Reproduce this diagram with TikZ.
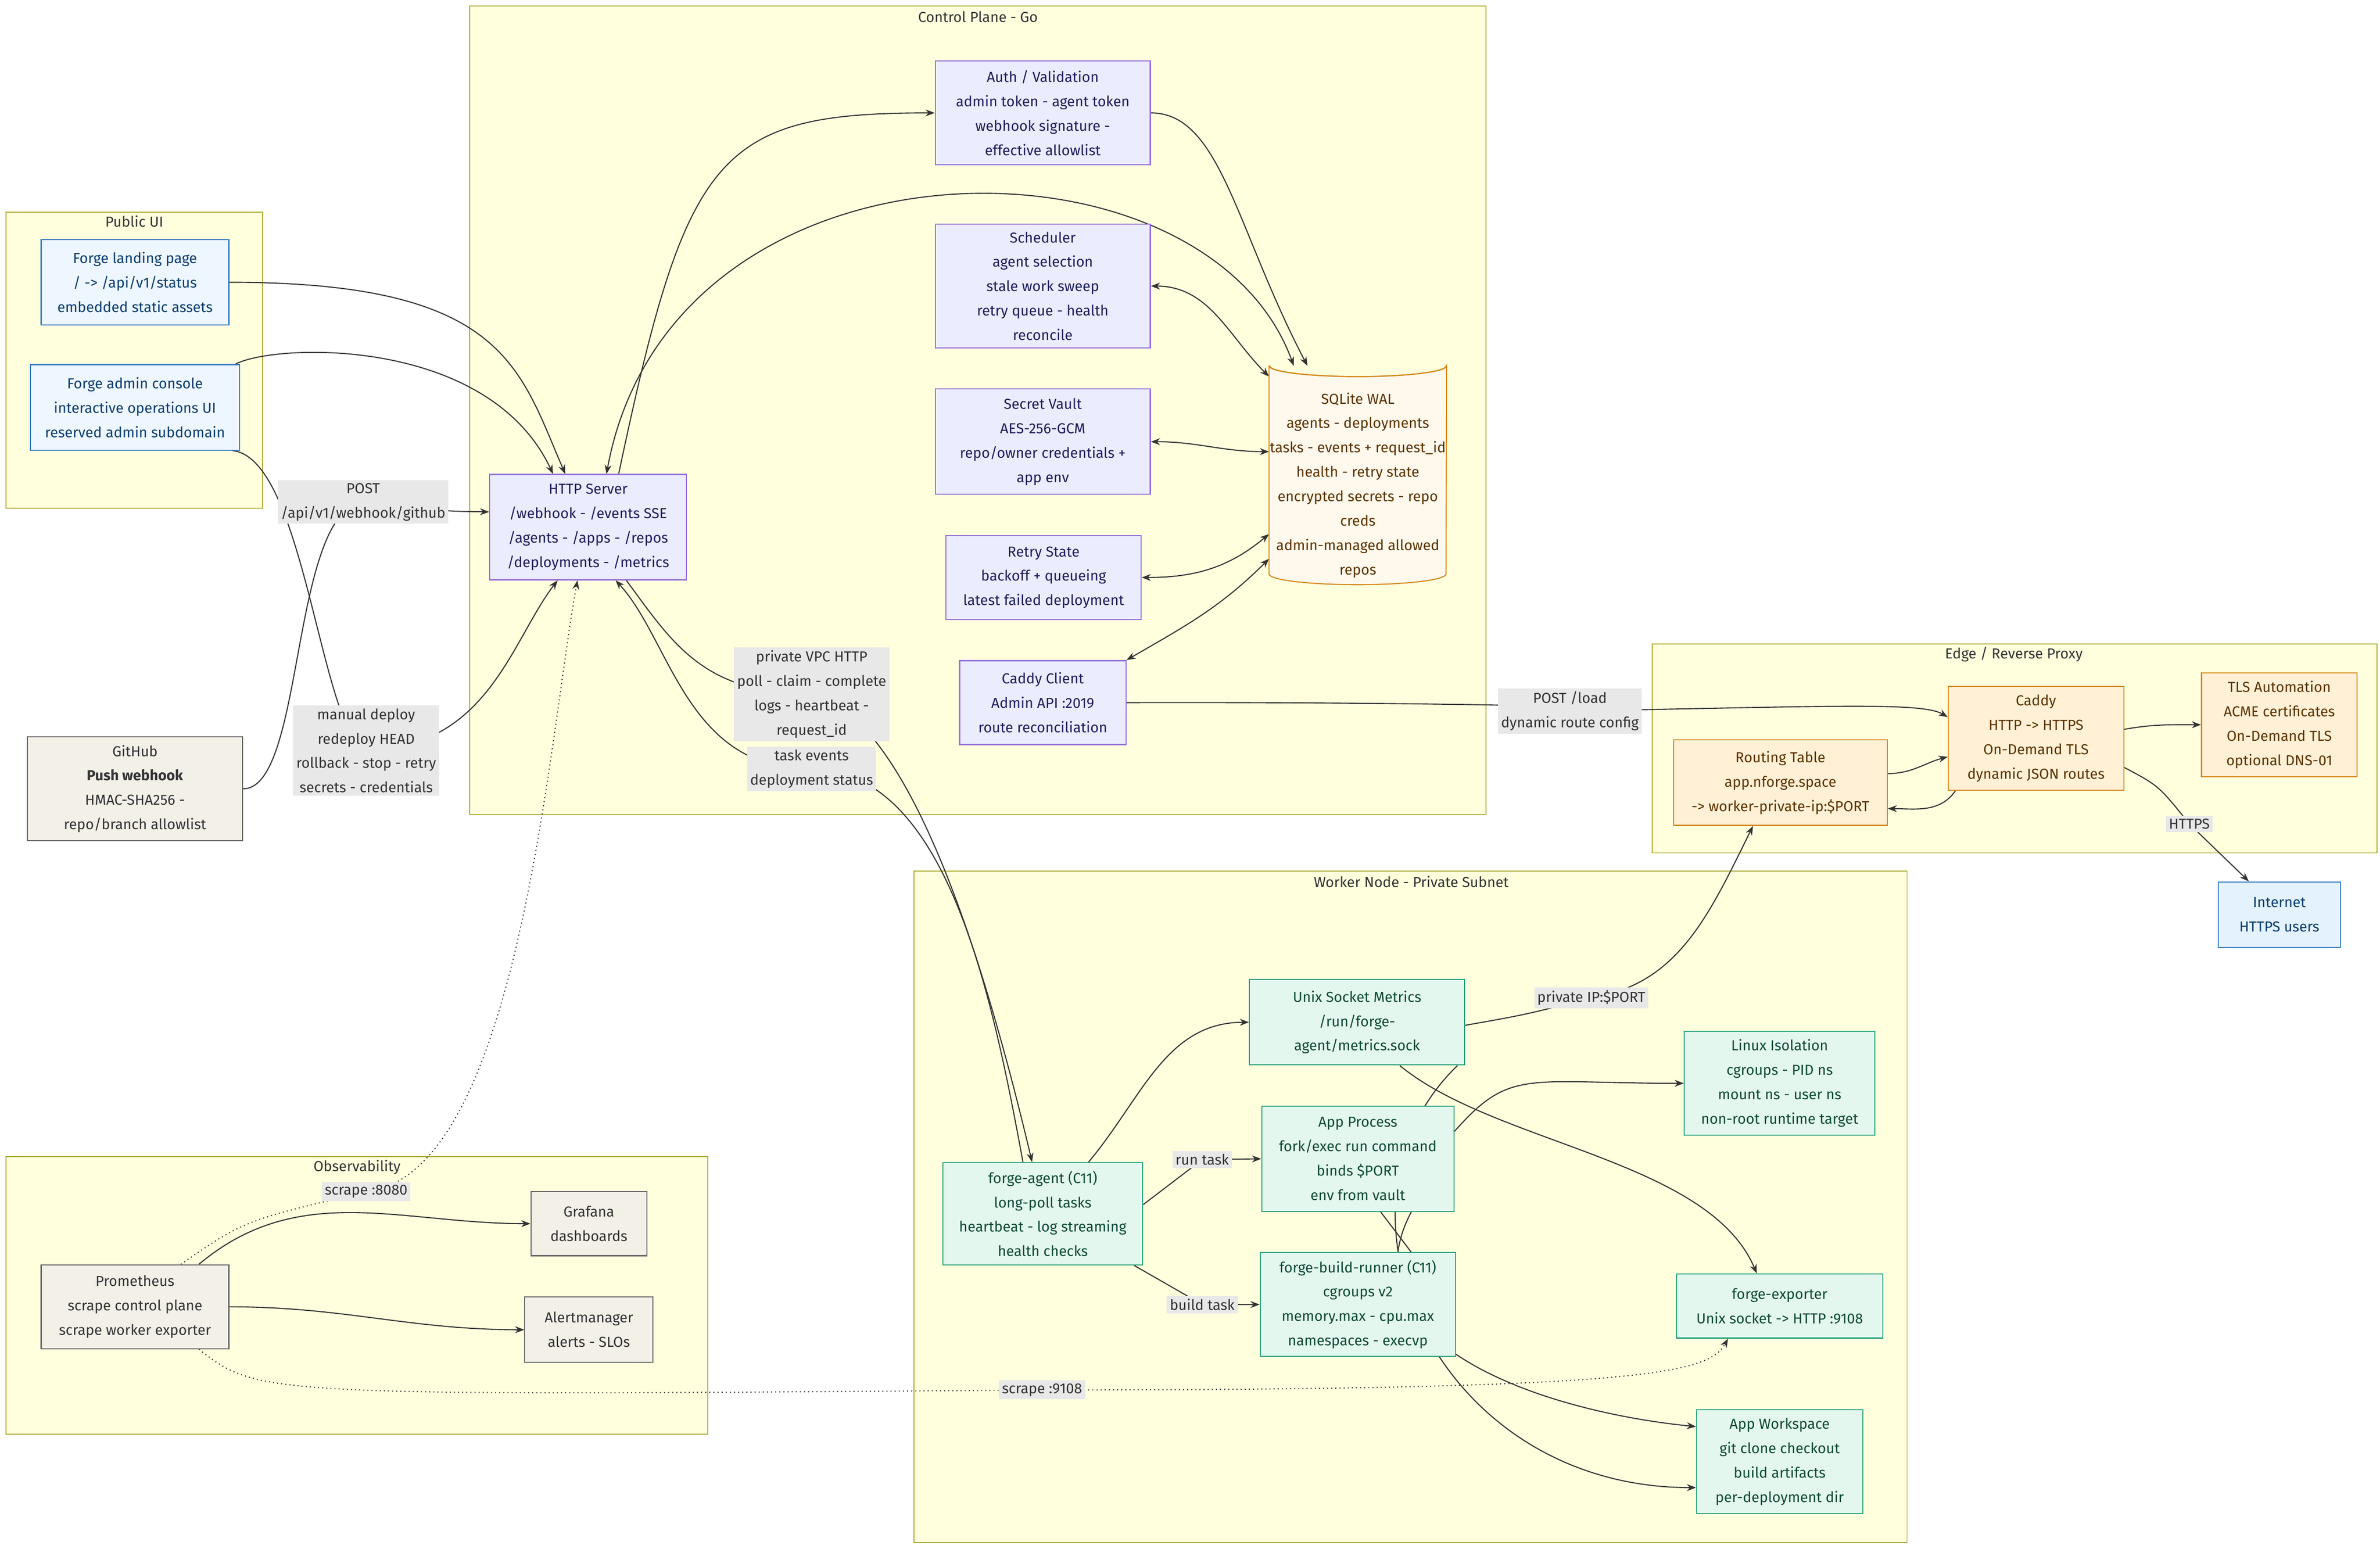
\documentclass[tikz,border=0pt]{standalone}
\usepackage{fontspec}
\setmainfont{Fira Sans}
\usetikzlibrary{positioning,calc,arrows.meta}
\definecolor{clfill}{HTML}{FFFFDE}
\definecolor{cldraw}{HTML}{AAAA33}
\definecolor{cpfill}{HTML}{ECECFF}
\definecolor{cpdraw}{HTML}{9370DB}
\definecolor{cptext}{HTML}{1F1F5C}
\definecolor{pubfill}{HTML}{EEF6FF}
\definecolor{pubdraw}{HTML}{3B7DC4}
\definecolor{pubtext}{HTML}{0B3D6E}
\definecolor{extfill}{HTML}{F3F0E8}
\definecolor{extdraw}{HTML}{666666}
\definecolor{orfill}{HTML}{FFF0D6}
\definecolor{ordraw}{HTML}{D4891A}
\definecolor{ortext}{HTML}{5A3400}
\definecolor{wkfill}{HTML}{E3F7EF}
\definecolor{wkdraw}{HTML}{2AA37A}
\definecolor{wktext}{HTML}{0F4A35}
\definecolor{inetfill}{HTML}{E3F2FD}
\definecolor{dbfill}{HTML}{FFF8EC}
\definecolor{lblfill}{HTML}{E8E8E8}
\definecolor{edgecol}{HTML}{333333}
\pgfdeclarelayer{bg}
\pgfdeclarelayer{edges}
\pgfsetlayers{bg,edges,main}
\tikzset{
  cluster/.style={draw=cldraw, fill=clfill, line width=0.6pt},
  cltitle/.style={text=edgecol},
  box/.style={draw, line width=0.7pt, align=center, inner sep=0pt},
  cp/.style={box, fill=cpfill, draw=cpdraw, text=cptext},
  pub/.style={box, fill=pubfill, draw=pubdraw, text=pubtext},
  ext/.style={box, fill=extfill, draw=extdraw, text=edgecol},
  orng/.style={box, fill=orfill, draw=ordraw, text=ortext},
  wk/.style={box, fill=wkfill, draw=wkdraw, text=wktext},
  lbl/.style={fill=lblfill, align=center, inner sep=2pt, text=edgecol},
  link/.style={draw=edgecol, line width=0.7pt, -{Stealth[length=6pt,width=4.5pt]}},
  both/.style={link, {Stealth[length=6pt,width=4.5pt]}-{Stealth[length=6pt,width=4.5pt]}},
  plain/.style={draw=edgecol, line width=0.7pt},
  scrape/.style={link, dotted}
}
\begin{document}
\begin{tikzpicture}[x=1pt, y=-1pt, font=\fontsize{9.5}{16}\selectfont]
\useasboundingbox (0,0) rectangle (1560,1015);

% clusters
\begin{pgfonlayer}{bg}
  \fill[white] (0,0) rectangle (1560,1015);
  \draw[cluster] (308,4) rectangle (974,534);
  \draw[cluster] (4,139) rectangle (172,333);
  \draw[cluster] (1083,422) rectangle (1558,559);
  \draw[cluster] (599,571) rectangle (1250,1011);
  \draw[cluster] (4,758) rectangle (464,940);
\end{pgfonlayer}
\node[cltitle] (tcp) at (641,11) {Control Plane - Go};
\node[cltitle] (tpub) at (88,145) {Public UI};
\node[cltitle] (tedge) at (1320,429) {Edge / Reverse Proxy};
\node[cltitle] (twk) at (925,578) {Worker Node - Private Subnet};
\node[cltitle] (tobs) at (234,765) {Observability};

% public / external
\node[pub, minimum width=123, minimum height=56] (land) at (88.5,185)
  {Forge landing page\\/ -> /api/v1/status\\embedded static assets};
\node[pub, minimum width=137, minimum height=56] (adm) at (88.5,267)
  {Forge admin console\\interactive operations UI\\reserved admin subdomain};
\node[ext, minimum width=141, minimum height=68] (gh) at (88.5,517)
  {GitHub\\\textbf{Push webhook}\\HMAC-SHA256 -\\repo/branch allowlist};

% control plane
\node[cp, minimum width=129, minimum height=69] (http) at (385.5,345.5)
  {HTTP Server\\/webhook - /events SSE\\/agents - /apps - /repos\\/deployments - /metrics};
\node[cp, minimum width=141, minimum height=68] (auth) at (683.5,74)
  {Auth / Validation\\admin token - agent token\\webhook signature -\\effective allowlist};
\node[cp, minimum width=141, minimum height=81] (sched) at (683.5,187.5)
  {Scheduler\\agent selection\\stale work sweep\\retry queue - health\\reconcile};
\node[cp, minimum width=141, minimum height=69] (vault) at (683.5,289.5)
  {Secret Vault\\AES-256-GCM\\repo/owner credentials +\\app env};
\node[cp, minimum width=128, minimum height=55] (retry) at (684,378.5)
  {Retry State\\backoff + queueing\\latest failed deployment};
\node[cp, minimum width=109, minimum height=55] (cclient) at (683.5,460.5)
  {Caddy Client\\Admin API :2019\\route reconciliation};
\node[minimum width=116, minimum height=136, inner sep=0pt] (db) at (890,308) {};
\fill[dbfill, draw=ordraw, line width=0.7pt]
  (db.north west) -- (db.south west) arc[start angle=180, end angle=360, x radius=58, y radius=-7]
  -- (db.north east) arc[start angle=0, end angle=-180, x radius=58, y radius=-7] -- cycle;
\draw[ordraw, line width=0.7pt] (db.north west) arc[start angle=180, end angle=360, x radius=58, y radius=-7];
\node[align=center, text=ortext] (dbtext) at (890,318)
  {SQLite WAL\\agents - deployments\\tasks - events + request\_id\\health - retry state\\encrypted secrets - repo\\creds\\admin-managed allowed\\repos};

% edge proxy
\node[orng, minimum width=140, minimum height=56] (route) at (1167,513)
  {Routing Table\\app.nforge.space\\-> worker-private-ip:\$PORT};
\node[orng, minimum width=115, minimum height=68] (caddy) at (1334.5,484)
  {Caddy\\HTTP -> HTTPS\\On-Demand TLS\\dynamic JSON routes};
\node[orng, minimum width=102, minimum height=68] (tls) at (1494,475)
  {TLS Automation\\ACME certificates\\On-Demand TLS\\optional DNS-01};
\node[box, fill=inetfill, draw=pubdraw, text=pubtext, minimum width=80, minimum height=43] (inet) at (1494,599.5)
  {Internet\\HTTPS users};

% worker
\node[wk, minimum width=141, minimum height=56] (metrics) at (889.5,670)
  {Unix Socket Metrics\\/run/forge-\\agent/metrics.sock};
\node[wk, minimum width=125, minimum height=68] (linux) at (1166.5,710)
  {Linux Isolation\\cgroups - PID ns\\mount ns - user ns\\non-root runtime target};
\node[wk, minimum width=126, minimum height=69] (app) at (890,759.5)
  {App Process\\fork/exec run command\\binds \$PORT\\env from vault};
\node[wk, minimum width=131, minimum height=67] (agent) at (683.5,795.5)
  {forge-agent (C11)\\long-poll tasks\\heartbeat - log streaming\\health checks};
\node[wk, minimum width=128, minimum height=68] (runner) at (890,855)
  {forge-build-runner (C11)\\cgroups v2\\memory.max - cpu.max\\namespaces - execvp};
\node[wk, minimum width=135, minimum height=42] (exporter) at (1166.5,856)
  {forge-exporter\\Unix socket -> HTTP :9108};
\node[wk, minimum width=109, minimum height=68] (ws) at (1166.5,958)
  {App Workspace\\git clone checkout\\build artifacts\\per-deployment dir};

% observability
\node[ext, minimum width=123, minimum height=55] (prom) at (88.5,856.5)
  {Prometheus\\scrape control plane\\scrape worker exporter};
\node[ext, minimum width=76, minimum height=42] (graf) at (386,802) {Grafana\\dashboards};
\node[ext, minimum width=84, minimum height=43] (alert) at (386,871.5) {Alertmanager\\alerts - SLOs};

% edge labels
\node[lbl] (lpost) at (238,329) {POST\\/api/v1/webhook/github};
\node[lbl] (ldeploy) at (240,492) {manual deploy\\redeploy HEAD\\rollback - stop - retry\\secrets - credentials};
\node[lbl] (lvpc) at (532,455) {private VPC HTTP\\poll - claim - complete\\logs - heartbeat -\\request\_id};
\node[lbl] (ltask) at (532,504) {task events\\deployment status};
\node[lbl] (lload) at (1029,466) {POST /load\\dynamic route config};
\node[lbl] (lhttps) at (1435,540) {HTTPS};
\node[lbl] (lpip) at (1043,654) {private IP:\$PORT};
\node[lbl] (lrun) at (788,760) {run task};
\node[lbl] (lbuild) at (788,855) {build task};
\node[lbl] (l8080) at (240,781) {scrape :8080};
\node[lbl] (l9108) at (683,911) {scrape :9108};

% connectors
\begin{pgfonlayer}{edges}
  \draw[link] (land.east) .. controls (330,185) and (340,240) .. ($(http.north)+(-15,0)$);
  \draw[link] ($(adm.north east)+(-3,0)$) .. controls (180,225) and (320,220) .. ($(http.north)+(-23,0)$);
  \draw[link] ($(adm.south east)+(-5,0)$) .. controls (200,300) and (210,480) .. (ldeploy.center)
    .. controls (320,490) and (335,420) .. ($(http.south)+(-20,0)$);
  \draw[link] (gh.east) .. controls (200,517) and (190,335) .. (lpost.center)
    .. controls (290,335) .. ($(http.west)+(0,-10)$);
  \draw[link] ($(http.north)+(20,0)$) .. controls (450,100) and (470,74) .. (auth.west);
  \draw[link] (auth.east) .. controls (800,74) and (810,150) .. ($(db.north)+(-33,0)$);
  \draw[both] ($(http.north)+(12,0)$) .. controls (440,80) and (790,80) .. ($(db.north)+(-42,0)$);
  \draw[both] (sched.east) to[out=0, in=135] ($(db.north west)+(0,7)$);
  \draw[both] (vault.east) to[out=0, in=180] ($(db.west)+(0,-12)$);
  \draw[both] (retry.east) to[out=0, in=220] ($(db.west)+(0,42)$);
  \draw[both] (cclient.north east) to[out=30, in=225] ($(db.south west)+(0,-10)$);
  \draw[link] (cclient.east) .. controls (900,460) and (1100,463) .. (lload.center)
    .. controls (1200,463) and (1260,460) .. ($(caddy.west)+(0,-14)$);
  \draw[link] ($(caddy.east)+(0,-6)$) to[out=10, in=180] (tls.west);
  \draw[link] ($(route.east)+(0,-6)$) to[out=0, in=195] ($(caddy.west)+(0,12)$);
  \draw[link] ($(caddy.south west)+(5,0)$) to[out=-125, in=0] ($(route.east)+(0,17)$);
  \draw[link] ($(caddy.east)+(0,19)$) .. controls (1415,515) .. (lhttps.center) -- ($(inet.north)+(-20,0)$);
  \draw[link] ($(http.south)+(25,0)$) .. controls (440,420) and (460,455) .. (lvpc.center)
    .. controls (600,470) and (650,650) .. ($(agent.north)+(-7,0)$);
  \draw[link] ($(agent.north)+(-13,0)$) .. controls (650,650) and (620,505) .. (ltask.center)
    .. controls (450,505) and (440,420) .. ($(http.south)+(18,0)$);
  \draw[link] ($(agent.north)+(30,0)$) to[out=50, in=180] (metrics.west);
  \draw[link] ($(agent.east)+(0,-6)$) -- (lrun.center) -- (app.west);
  \draw[link] ($(agent.south east)+(-6,0)$) -- (lbuild.center) -- (runner.west);
  \draw[link] ($(metrics.east)+(0,2)$) .. controls (1000,665) .. (lpip.center)
    .. controls (1100,645) and (1120,600) .. ($(route.south)+(-18,0)$);
  \draw[link] ($(app.east)+(0,-18)$) .. controls (990,700) and (1000,710) .. (linux.west);
  \draw[link] ($(metrics.south)+(28,0)$) .. controls (980,750) and (1120,760) .. ($(exporter.north)+(-15,0)$);
  \draw[link] ($(metrics.south east)+(-5,0)$) .. controls (860,790) and (940,975) .. ($(ws.west)+(0,17)$);
  \draw[link] ($(app.south)+(35,0)$) .. controls (880,880) and (1010,925) .. ($(ws.west)+(0,-23)$);
  \draw[plain] ($(app.south)+(15,0)$) -- ($(runner.north)+(35,0)$);
  \draw[link] ($(prom.north east)+(-20,0)$) to[out=40, in=180] (graf.west);
  \draw[link] (prom.east) to[out=0, in=180] (alert.west);
  \draw[scrape] ($(prom.north)+(30,0)$) .. controls (160,800) .. (l8080.center)
    .. controls (340,770) and (360,480) .. ($(http.south)+(-7,0)$);
  \draw[scrape] ($(prom.south east)+(-20,0)$) .. controls (170,915) .. (l9108.center)
    .. controls (1080,911) and (1120,900) .. ($(exporter.south west)+(34,0)$);
\end{pgfonlayer}
\end{tikzpicture}
\end{document}
